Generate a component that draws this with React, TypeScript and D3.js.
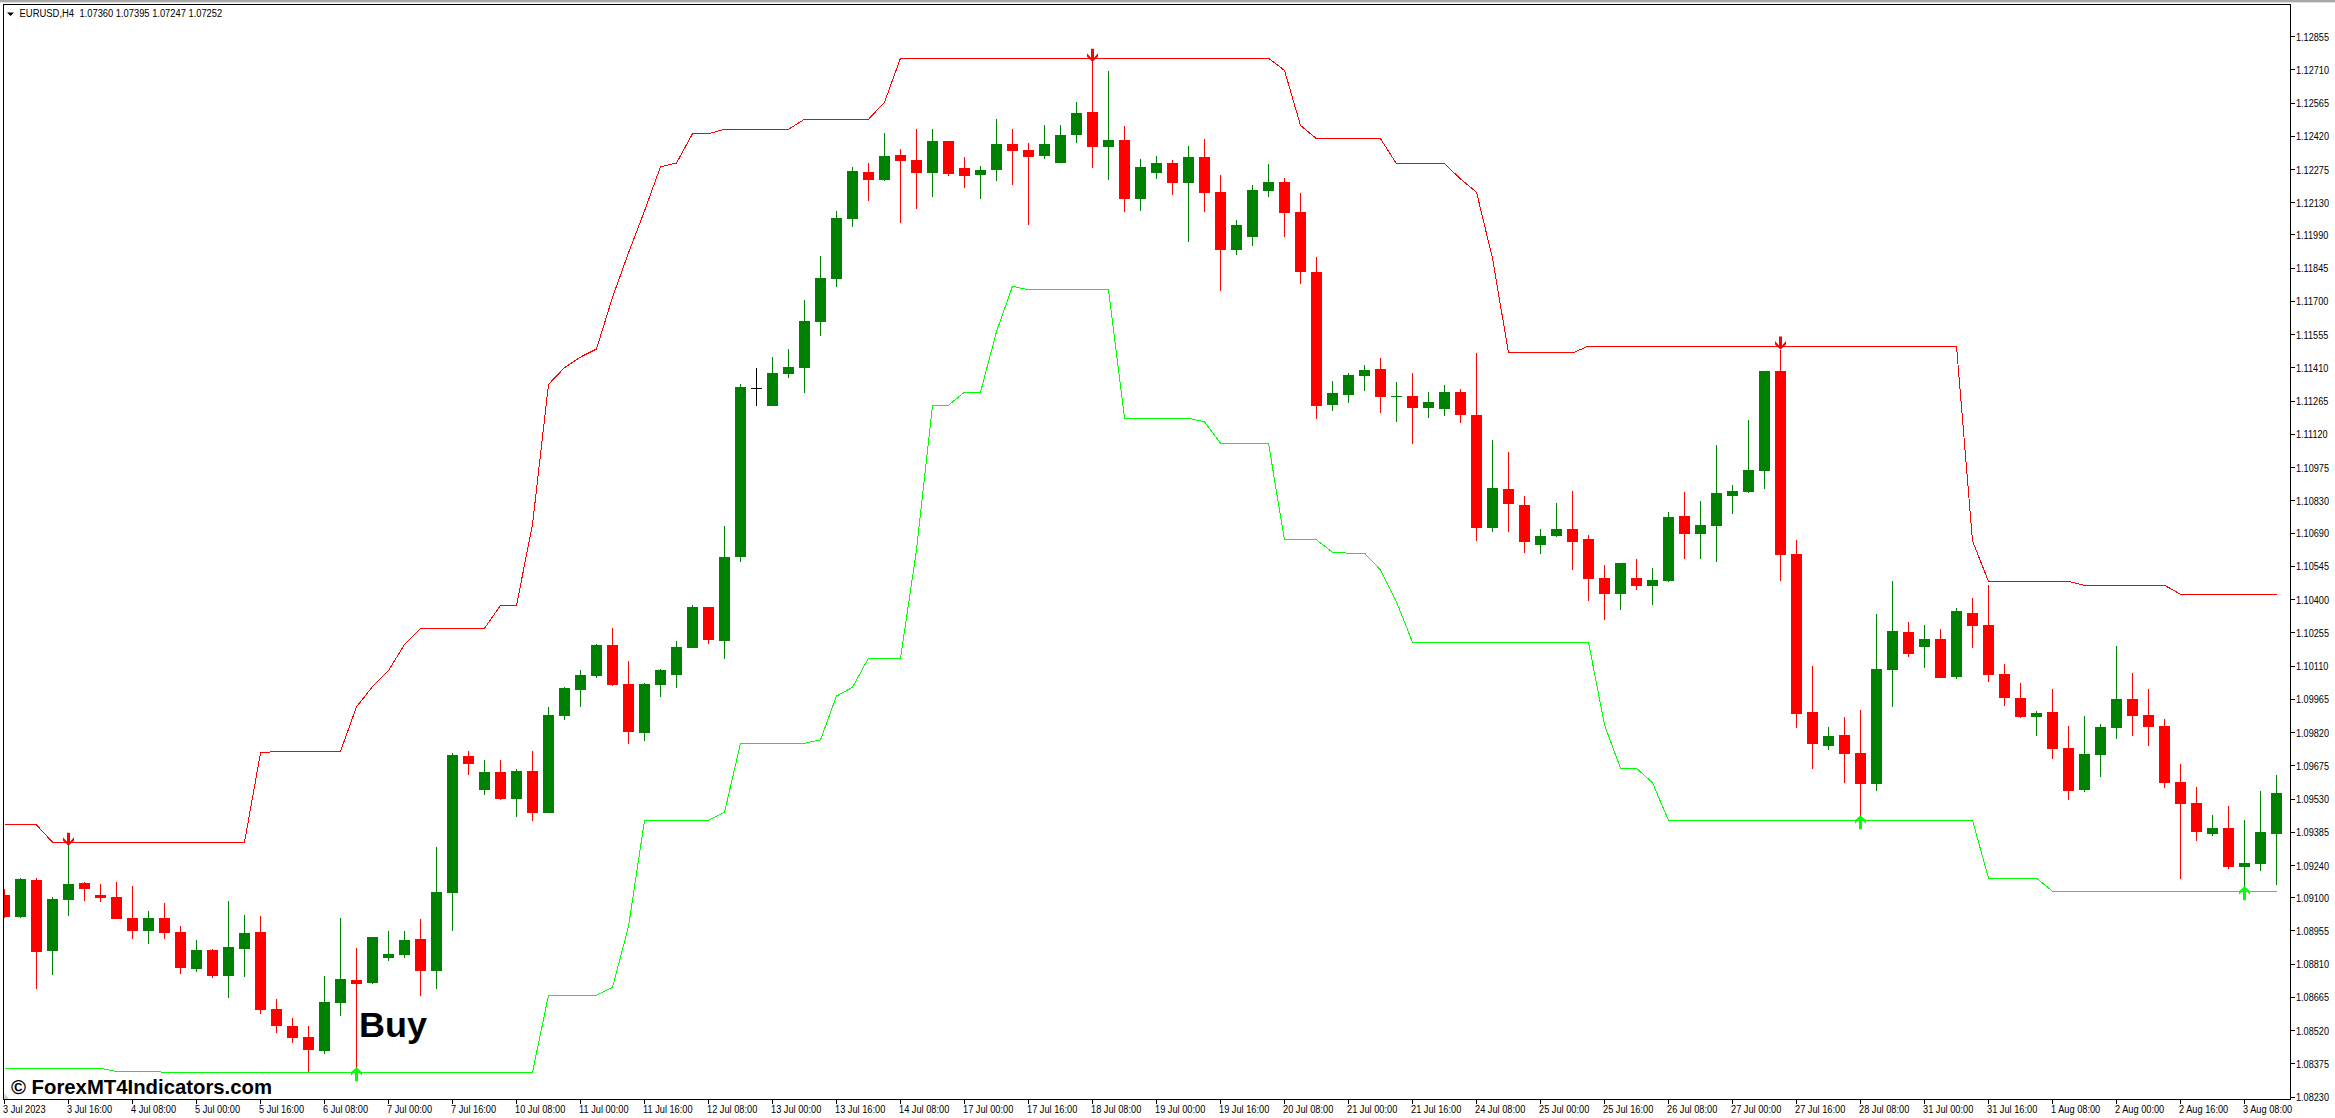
import React from "react";
import * as d3 from "d3";

const symbolLabel = "EURUSD,H4";
const quoteLabel = "1.07360 1.07395 1.07247 1.07252";
const copyright = "© ForexMT4Indicators.com";
const signalText = "Buy";

// candle prices, in 1e-5 (points)
const opens = [109110,109014,109175,108865,109088,109162,109110,109101,109009,108953,109009,108948,108787,108870,108756,108874,108948,108613,108538,108491,108429,108639,108739,108726,108835,108848,108918,108778,109118,109716,109568,109646,109528,109650,109467,109890,110004,110065,110200,110030,109816,110025,110069,110187,110365,110217,110583,111319,111242,111382,111408,111609,111796,112058,112262,112228,112337,112315,112258,112398,112280,112249,112271,112385,112358,112332,112302,112424,112524,112371,112402,112145,112258,112302,112215,112328,112175,111922,111979,112180,112219,112088,111826,111247,111290,111373,111404,111282,111286,111234,111229,111303,111203,110710,110880,110811,110636,110675,110706,110662,110492,110423,110492,110457,110479,110763,110684,110719,110850,110867,110959,111395,110597,109908,109760,109808,109729,109594,110091,110257,110191,110226,110060,110340,110287,110074,109969,109886,109908,109751,109568,109720,109838,109965,109895,109847,109603,109511,109376,109402,109232,109245,109376];
const highs = [109136,109182,109182,109101,109335,109166,109158,109166,109149,109040,109075,108974,108913,108874,109083,109022,109018,108656,108573,108538,108756,109009,108879,108926,108953,108953,109005,109319,109729,109738,109698,109698,109659,109738,109930,110017,110091,110204,110274,110130,110034,110095,110217,110374,110365,110719,111338,111408,111456,111491,111704,111896,112092,112284,112302,112433,112363,112450,112450,112398,112328,112289,112494,112450,112389,112467,112467,112568,112751,112703,112463,112319,112332,112315,112376,112406,112249,112053,112206,112297,112236,112171,111892,111351,111386,111421,111452,111347,111386,111303,111334,111316,111473,111094,111042,110850,110706,110819,110872,110680,110549,110558,110575,110536,110780,110867,110828,111072,110898,111181,111395,111486,110658,110108,109843,109886,109917,110335,110479,110300,110287,110270,110361,110405,110462,110117,110034,109912,110008,109847,109890,109856,110196,110078,110008,109877,109681,109581,109459,109498,109437,109563,109633];
const lows = [109008,109011,108700,108761,109018,109083,109079,109005,108918,108896,108918,108765,108774,108748,108661,108752,108591,108508,108464,108338,108416,108582,108347,108722,108822,108835,108669,108700,108953,109633,109546,109524,109450,109432,109467,109873,109930,110056,110021,109768,109781,109973,110012,110187,110204,110139,110562,111242,111242,111364,111299,111547,111761,112023,112136,112223,112040,112101,112153,112245,112193,112145,112223,112206,112031,112319,112302,112389,112280,112228,112088,112092,112232,112162,111957,112088,111744,111901,111940,112153,111979,111774,111186,111220,111255,111308,111212,111173,111077,111190,111199,111168,110654,110693,110693,110601,110597,110671,110527,110392,110309,110353,110440,110375,110475,110575,110575,110562,110771,110863,110880,110479,109838,109659,109742,109598,109454,109563,109930,110148,110100,110056,110052,110187,110039,109934,109882,109803,109703,109524,109559,109625,109790,109803,109760,109577,109180,109345,109367,109223,109139,109215,109154];
const closes = [109014,109179,108861,109092,109158,109136,109097,109005,108953,109009,108944,108791,108870,108756,108883,108944,108608,108538,108486,108434,108643,108743,108722,108926,108852,108913,108778,109123,109720,109681,109646,109528,109650,109467,109895,110012,110069,110200,110025,109821,110030,110091,110191,110365,110222,110583,111325,111319,111386,111412,111613,111800,112062,112267,112228,112332,112310,112258,112398,112254,112245,112271,112385,112354,112328,112385,112424,112520,112371,112402,112145,112284,112302,112215,112328,112171,111922,112031,112184,112219,112084,111826,111242,111299,111377,111399,111282,111284,111234,111260,111303,111203,110710,110885,110815,110649,110675,110706,110649,110488,110423,110558,110457,110484,110758,110684,110723,110863,110872,110963,111395,110593,109899,109768,109803,109725,109594,110095,110261,110161,110226,110056,110348,110283,110069,109969,109886,109904,109747,109563,109725,109843,109965,109890,109843,109598,109507,109385,109402,109232,109250,109385,109555];

// channel lines: bar index of each vertex and its price in points
const upperBars = [0,2,3,15,16,17,21,22,23,24,25,26,30,31,32,33,34,35,36,37,38,39,40,41,42,43,44,45,49,50,54,55,56,79,80,81,82,86,87,90,91,92,93,94,98,99,122,123,124,129,130,135,136,142];
const upperValues = [109415,109415,109340,109340,109729,109736,109736,109930,110018,110088,110202,110272,110272,110372,110372,110725,111336,111409,111455,111490,111716,111909,112092,112285,112301,112429,112429,112448,112448,112492,112492,112566,112758,112758,112705,112465,112407,112407,112298,112298,112232,112174,111886,111473,111473,111503,111503,110653,110477,110477,110460,110460,110421,110421];
const lowerBars = [0,6,7,9,10,33,34,37,38,39,40,44,45,46,50,51,52,53,54,56,57,58,59,60,61,62,63,64,69,70,74,75,76,79,80,82,83,84,85,86,87,88,99,100,101,102,103,104,123,124,127,128,142];
const lowerValues = [108354,108354,108340,108340,108337,108337,108672,108672,108707,108972,109435,109435,109470,109771,109771,109786,109977,110015,110142,110142,110614,111245,111245,111302,111302,111566,111764,111748,111748,111188,111188,111173,111079,111079,110658,110658,110604,110600,110600,110527,110387,110212,110212,109851,109662,109662,109599,109435,109435,109183,109183,109126,109126];

// signal arrows
const sellArrowBars = [4,68,111];
const sellArrowValues = [109340,112758,111503];
const buyArrowBars = [22,116,140];
const buyArrowValues = [108337,109435,109126];

const priceTicks = ["1.12855","1.12710","1.12565","1.12420","1.12275","1.12130","1.11990","1.11845","1.11700","1.11555","1.11410","1.11265","1.11120","1.10975","1.10830","1.10690","1.10545","1.10400","1.10255","1.10110","1.09965","1.09820","1.09675","1.09530","1.09385","1.09240","1.09100","1.08955","1.08810","1.08665","1.08520","1.08375","1.08230"];
const timeTicks = ["3 Jul 2023","3 Jul 16:00","4 Jul 08:00","5 Jul 00:00","5 Jul 16:00","6 Jul 08:00","7 Jul 00:00","7 Jul 16:00","10 Jul 08:00","11 Jul 00:00","11 Jul 16:00","12 Jul 08:00","13 Jul 00:00","13 Jul 16:00","14 Jul 08:00","17 Jul 00:00","17 Jul 16:00","18 Jul 08:00","19 Jul 00:00","19 Jul 16:00","20 Jul 08:00","21 Jul 00:00","21 Jul 16:00","24 Jul 08:00","25 Jul 00:00","25 Jul 16:00","26 Jul 08:00","27 Jul 00:00","27 Jul 16:00","28 Jul 08:00","31 Jul 00:00","31 Jul 16:00","1 Aug 08:00","2 Aug 00:00","2 Aug 16:00","3 Aug 08:00"];
const timeTickEvery = 4;

const W = 2335, H = 1118;
const L = 3.5, R = 2290.5, T = 4.5, B = 1099.5;
const UP = "#008000", DOWN = "#ff0000", UPPER = "#ff0000", LOWER = "#00ff00";
const FONT = "'Liberation Sans', Arial, sans-serif";

const x = d3.scaleLinear().domain([0, 142]).range([4.5, 2276.5]);
const y = d3.scaleLinear().domain([112855, 108230]).range([36, 1096.7]);

function linePath(bars: number[], vals: number[]) {
  return d3.line<number>()
    .x((b) => x(b))
    .y((_, i) => y(vals[i]))(bars) as string;
}

function arrowDown(cx: number, ly: number) {
  const t = ly - 9.5, tip = ly + 3.5;
  return `M${cx - 1.5},${t}H${cx + 1.5}V${tip - 4}L${cx + 5.5},${tip - 8.5}V${tip - 5}L${cx},${tip}L${cx - 5.5},${tip - 5}V${tip - 8.5}L${cx - 1.5},${tip - 4}Z`;
}
function arrowUp(cx: number, ly: number) {
  const tip = ly - 5, b = ly + 9;
  return `M${cx},${tip}L${cx + 5.5},${tip + 5}V${tip + 8.5}L${cx + 1.5},${tip + 4}V${b}H${cx - 1.5}V${tip + 4}L${cx - 5.5},${tip + 8.5}V${tip + 5}Z`;
}

export default function App() {
  return (
    <svg
      width={W}
      height={H}
      viewBox={`0 0 ${W} ${H}`}
      style={{ position: "absolute", left: 0, top: 0, background: "#fff", display: "block" }}
      fontFamily={FONT}
    >
      <defs>
        <clipPath id="plot">
          <rect x={L + 0.5} y={T + 0.5} width={R - L - 1} height={B - T - 1} />
        </clipPath>
      </defs>
      <rect x={0} y={0} width={W} height={2} fill="#a8a8a8" />
      <rect x={0} y={2} width={W} height={1} fill="#e0e0e0" />

      <g clipPath="url(#plot)">
        {opens.map((o, i) => {
          const c = closes[i];
          const cx = x(i);
          const color = c > o ? UP : c < o ? DOWN : "#000";
          const top = Math.round(y(Math.max(o, c)));
          const bot = Math.round(y(Math.min(o, c)));
          return (
            <g key={i} shapeRendering="crispEdges">
              <rect x={cx - 0.5} y={Math.round(y(highs[i]))} width={1} height={Math.max(1, Math.round(y(lows[i])) - Math.round(y(highs[i])))} fill={color} />
              <rect x={cx - 5.5} y={top} width={11} height={Math.max(1, bot - top)} fill={color} />
            </g>
          );
        })}
        <path d={linePath(upperBars, upperValues)} fill="none" stroke={UPPER} strokeWidth={1} shapeRendering="crispEdges" />
        <path d={linePath(lowerBars, lowerValues)} fill="none" stroke={LOWER} strokeWidth={1} shapeRendering="crispEdges" />
        {sellArrowBars.map((b, i) => (
          <path key={b} d={arrowDown(x(b), y(sellArrowValues[i]))} fill={UPPER} />
        ))}
        {buyArrowBars.map((b, i) => (
          <path key={b} d={arrowUp(x(b), y(buyArrowValues[i]))} fill={LOWER} />
        ))}
      </g>

      <path d={`M${L + 1},${B - 6}L${L + 6},${B}H${L + 1}Z`} fill="#c8c8c8" />
      <rect x={L} y={T} width={R - L} height={B - T} fill="none" stroke="#000" strokeWidth={1} shapeRendering="crispEdges" />

      <path d="M7,12.5H14L10.5,16Z" fill="#000" />
      <g fontSize={11} fill="#000">
        <text transform="translate(19.5,16.5) scale(0.86,1)">{symbolLabel}</text>
        <text transform="translate(79.5,16.5) scale(0.85,1)">{quoteLabel}</text>
      </g>

      <g fontSize={11} fill="#000">
        {priceTicks.map((t) => {
          const py = y(+t * 100000);
          return (
            <g key={t}>
              <rect x={R} y={Math.round(py)} width={4} height={1} fill="#000" shapeRendering="crispEdges" />
              <text transform={`translate(2296,${py + 4.5}) scale(0.83,1)`}>{t}</text>
            </g>
          );
        })}
        {timeTicks.map((t, i) => {
          const tx = x(i * timeTickEvery);
          return (
            <g key={t}>
              <rect x={tx - 0.5} y={B} width={1} height={4} fill="#000" shapeRendering="crispEdges" />
              <text transform={`translate(${tx - 1.5},1112.5) scale(0.84,1)`}>{t}</text>
            </g>
          );
        })}
      </g>

      <text x={359} y={1037} fontSize={35} fontWeight={700} fill="#000" textLength={68} lengthAdjust="spacingAndGlyphs">{signalText}</text>
      <text x={11} y={1094} fontSize={19.5} fontWeight={700} fill="#000" textLength={261} lengthAdjust="spacingAndGlyphs">{copyright}</text>
    </svg>
  );
}
